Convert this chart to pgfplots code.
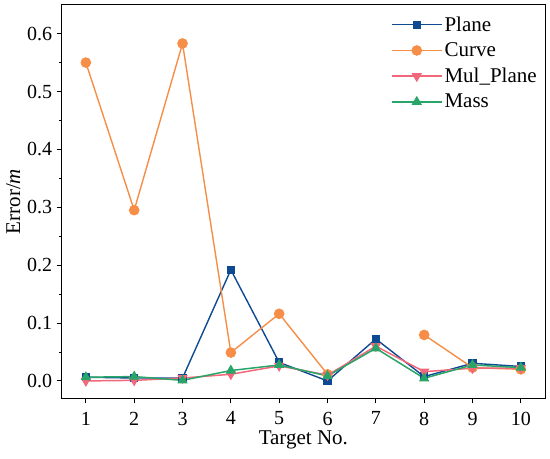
\documentclass[border=0pt]{standalone}
\usepackage{fontspec}
\setmainfont{Liberation Serif}
\usepackage{pgfplots}
\pgfplotsset{compat=1.18}
\definecolor{cplane}{RGB}{14,74,146}
\definecolor{ccurve}{RGB}{246,142,72}
\definecolor{cmul}{RGB}{242,104,122}
\definecolor{cmass}{RGB}{40,165,105}
\begin{document}
\begin{tikzpicture}
\begin{axis}[
  at={(0,0)}, anchor=south west,
  scale only axis,
  width=483.3bp, height=393.6bp,
  xmin=0.5, xmax=10.5,
  ymin=-0.03, ymax=0.65,
  xtick={1,...,10},
  ytick={0,0.1,...,0.6},
  minor ytick={0.05,0.15,...,0.55},
  tick align=outside,
  tick pos=left,
  major tick length=5bp,
  minor tick length=3bp,
  every tick/.style={black, line width=0.9pt},
  axis line style={line width=1pt},
  /pgf/number format/assume math mode=true,
  /pgf/number format/fixed,
  /pgf/number format/fixed zerofill,
  /pgf/number format/precision=1,
  xticklabel style={/pgf/number format/precision=0, /pgf/number format/fixed zerofill=false, yshift=-5bp},
  yticklabel style={xshift=-1bp},
  tick label style={font=\fontsize{20bp}{22bp}\selectfont},
  label style={font=\fontsize{21bp}{24bp}\selectfont},
  xlabel={Target No.},
  ylabel={Error/\textit{m}},
  xlabel style={yshift=1bp},
  ylabel style={yshift=0bp},
  unbounded coords=jump,
  legend style={draw=none, fill=none, at={(0.681,0.975)}, anchor=north west,
    font=\fontsize{21bp}{24bp}\selectfont, row sep=6bp, inner sep=0pt,
    /tikz/every even column/.append style={column sep=5bp}},
  legend cell align=left,
  legend image code/.code={
    \draw[mark repeat=2,mark phase=2] plot coordinates {(0bp,0bp) (25bp,0bp) (50bp,0bp)};},
]
\addplot[color=cplane, line width=1.4pt, mark=square*, mark size=3.7bp, mark options={line width=1pt}] coordinates {
(1,0.0064)(2,0.005)(3,0.005)(4,0.192)(5,0.032)(6,0.0)(7,0.0725)(8,0.0075)(9,0.0305)(10,0.025)};
\addlegendentry{Plane}
\addplot[color=ccurve, line width=1.4pt, mark=*, mark size=4.8bp, mark options={line width=1pt}] coordinates {
(1,0.55)(2,0.295)(3,0.583)(4,0.049)(5,0.116)(6,0.0115)(7,nan)(8,0.0795)(9,0.023)(10,0.02)};
\addlegendentry{Curve}
\addplot[color=cmul, line width=1.5pt, mark=triangle*, mark options={rotate=180, line width=1pt}, mark size=5bp] coordinates {
(1,0.0)(2,0.001)(3,0.005)(4,0.0115)(5,0.026)(6,0.01)(7,0.06)(8,0.016)(9,0.022)(10,0.022)};
\addlegendentry{Mul\_Plane}
\addplot[color=cmass, line width=1.5pt, mark=triangle*, mark options={line width=1pt}, mark size=5bp] coordinates {
(1,0.0064)(2,0.0075)(3,0.001)(4,0.018)(5,0.0276)(6,0.0086)(7,0.0564)(8,0.0046)(9,0.0276)(10,0.023)};
\addlegendentry{Mass}
\end{axis}
\pgfresetboundingbox
\path[use as bounding box] (-61.7bp,-60.7bp) rectangle (488.3bp,398.3bp);
\end{tikzpicture}
\end{document}
